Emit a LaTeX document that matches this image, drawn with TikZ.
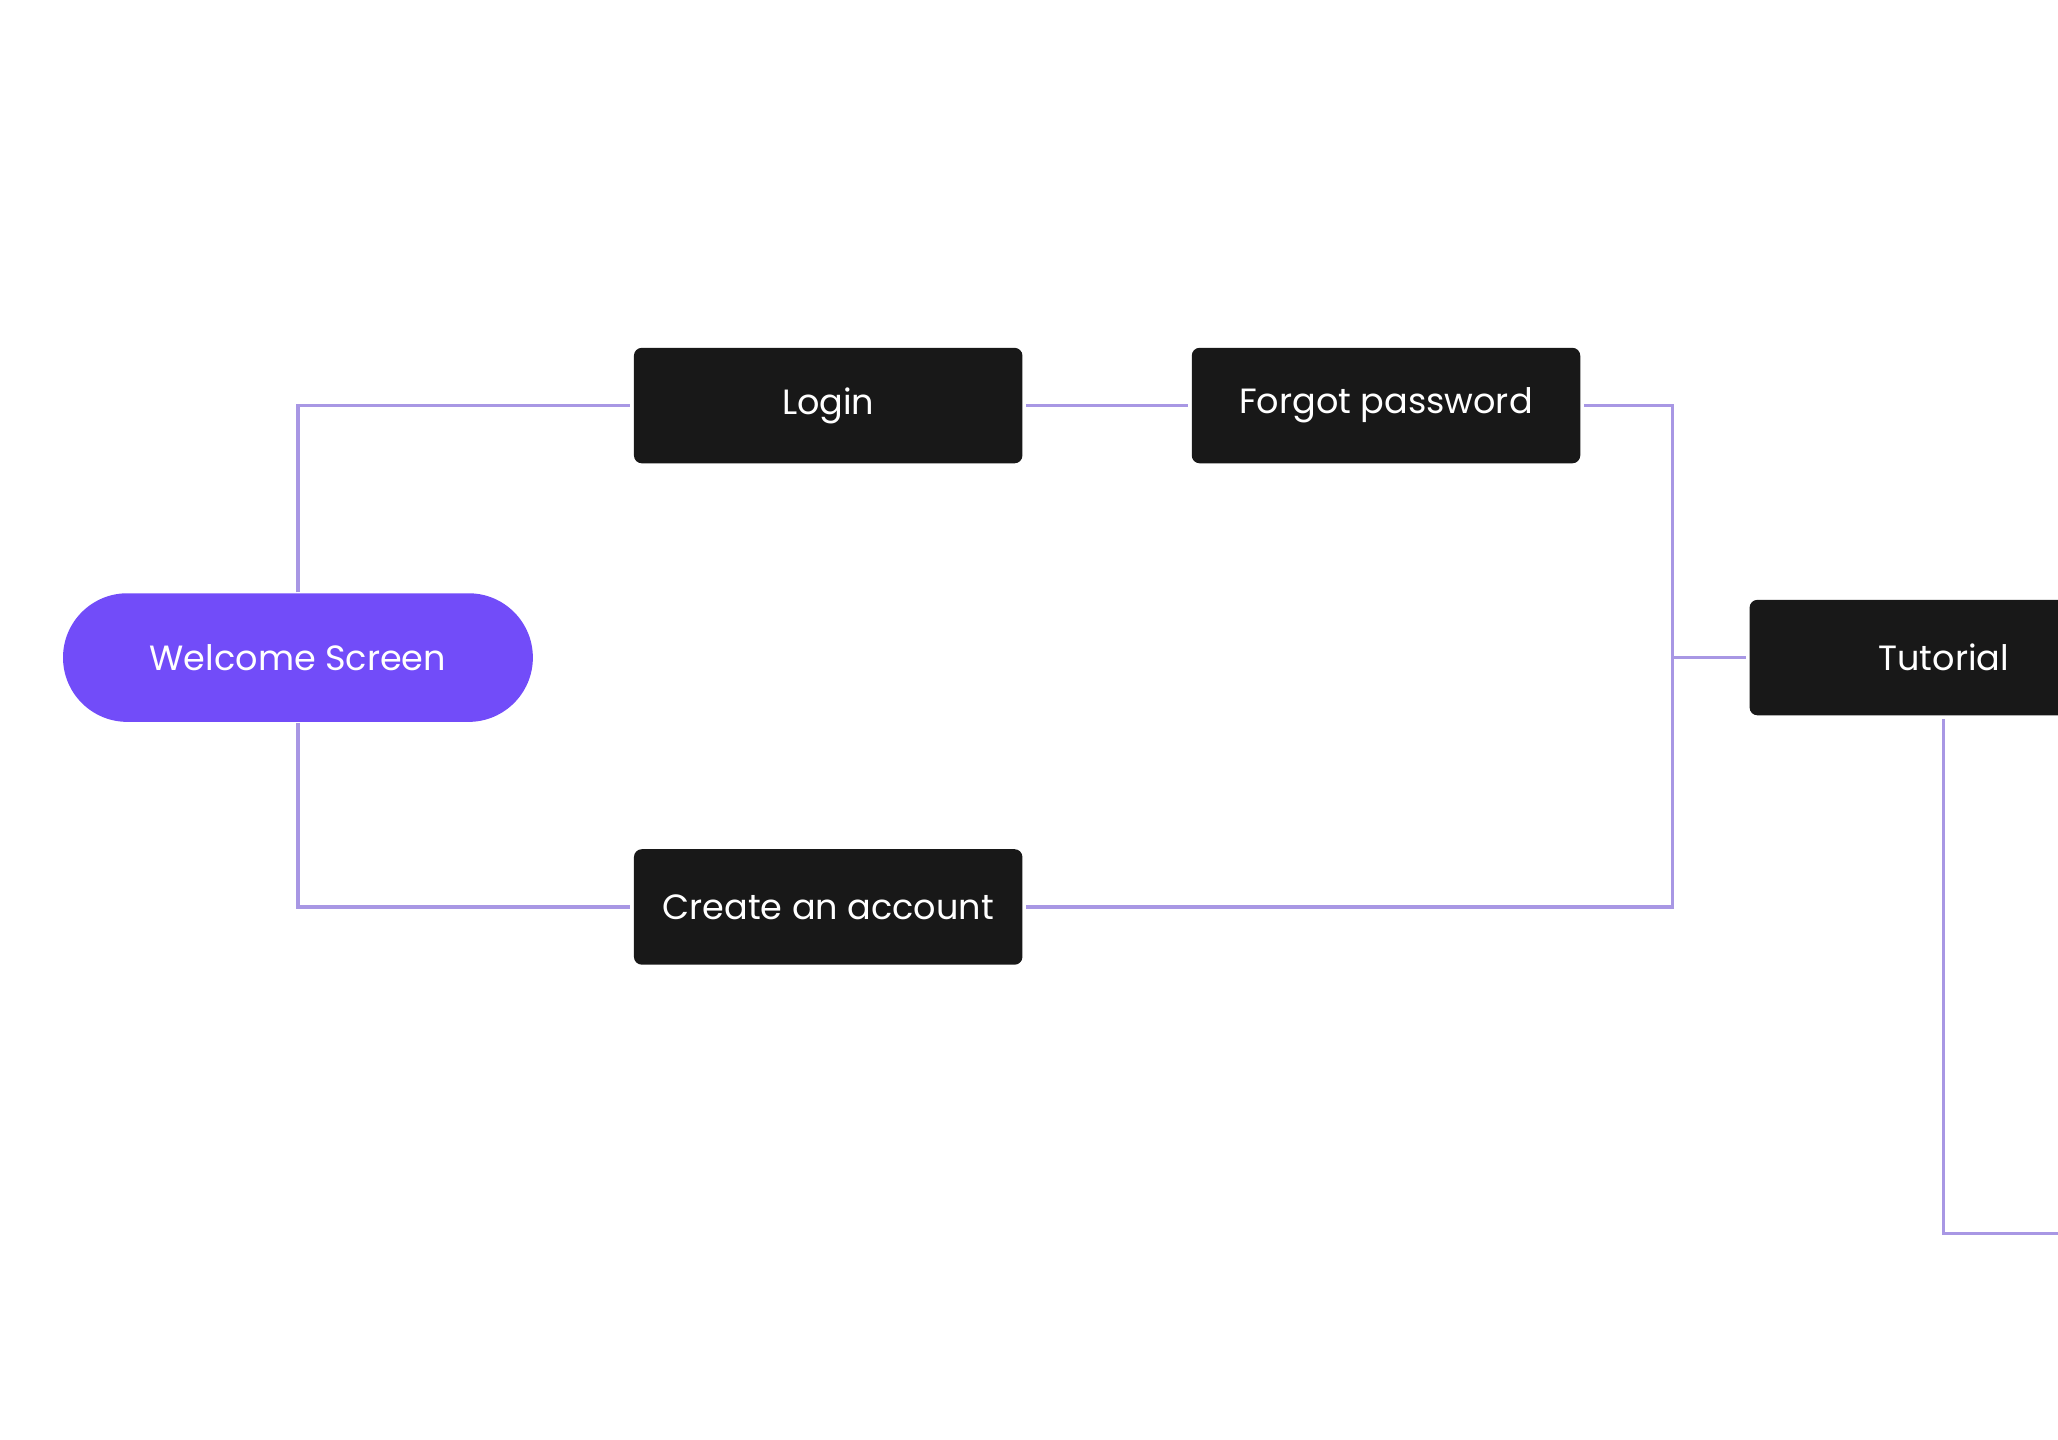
\documentclass[tikz,border=0pt]{standalone}
\usepackage{fontspec}
\setmainfont{Poppins}
\usepackage{tikz}
\usetikzlibrary{positioning}

\definecolor{violet}{HTML}{724CF9}
\definecolor{lilac}{HTML}{A897E4}
\definecolor{ink}{HTML}{181818}

\begin{document}
\begin{tikzpicture}[
    screen/.style={fill=ink, text=white, rounded corners=0.06cm, minimum width=2.96cm,
        minimum height=0.88cm, outer sep=0.03cm, font=\fontsize{7.6}{9}\selectfont},
    start/.style={fill=violet, text=white, rounded corners=0.49cm, minimum width=3.58cm,
        minimum height=0.98cm, font=\fontsize{7.6}{9}\selectfont},
    link/.style={draw=lilac, line width=0.7pt}
    ]
    \useasboundingbox (0,0) rectangle (15.68,-10.97);
    \clip (0,0) rectangle (15.68,-10.97);
    \node[start] (welcome) at (2.27,-5.01) {Welcome Screen};
    \node[screen] (login) at (6.31,-3.09) {Login};
    \node[screen, right=1.23cm of login] (forgot) {Forgot password};
    \node[screen] (account) at (6.31,-6.91) {Create an account};
    \node[screen] (tutorial) at (14.81,-5.01) {Tutorial};
    \coordinate (join) at (12.74,-5.01);
    \coordinate (exit) at (16.2,-9.40);
    \draw[link] (welcome.north) |- (login.west);
    \draw[link] (welcome.south) |- (account.west);
    \draw[link] (login) -- (forgot);
    \draw[link] (forgot.east) -| (join) |- (account.east);
    \draw[link] (join) -- (tutorial.west);
    \draw[link] (tutorial.south) |- (exit);
    \end{tikzpicture}
\end{document}
